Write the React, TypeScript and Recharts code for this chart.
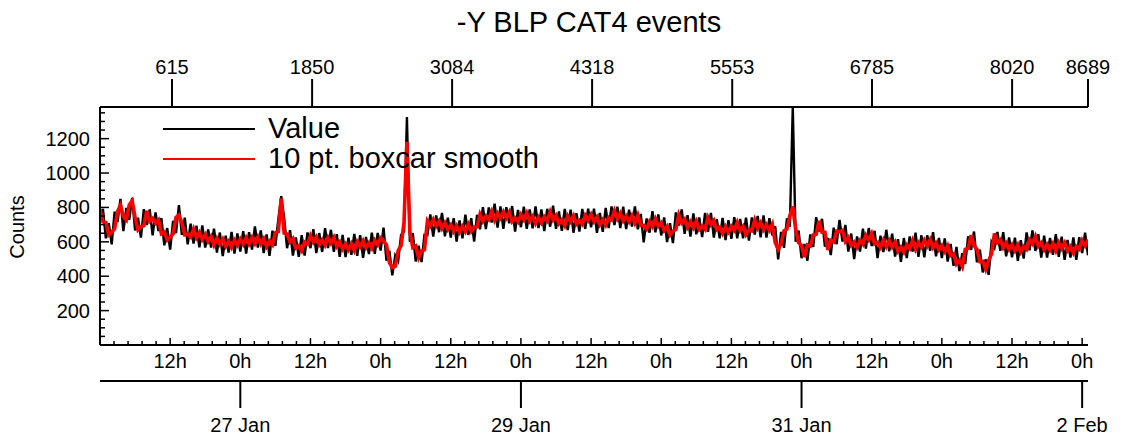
import React from "react";
import { LineChart, Line, XAxis, YAxis } from "recharts";

// samples every half hour, starting 26 Jan 0h
const STEP_H = 0.5;

// raw counts ("Value")
const valueCounts = [
  715, 792, 620, 708, 585, 775, 715, 850, 662, 797, 728, 855, 666, 740, 624, 790, 698, 788, 637, 771, 663, 738, 580, 680,
  555, 722, 650, 814, 640, 740, 585, 706, 590, 694, 568, 695, 566, 672, 567, 677, 538, 654, 517, 636, 538, 658, 531, 649,
  543, 662, 532, 656, 555, 689, 567, 666, 534, 643, 518, 665, 576, 730, 866, 738, 563, 668, 520, 626, 513, 638, 520, 655,
  563, 674, 535, 651, 541, 679, 563, 670, 542, 644, 513, 640, 511, 624, 525, 646, 518, 639, 507, 628, 529, 653, 530, 652,
  549, 682, 490, 548, 405, 520, 488, 640, 660, 1326, 600, 650, 486, 578, 482, 640, 638, 760, 630, 753, 656, 768, 632, 741,
  625, 737, 601, 724, 620, 758, 640, 738, 602, 757, 673, 802, 674, 800, 712, 822, 683, 806, 675, 801, 708, 808, 660, 785,
  685, 804, 675, 789, 678, 806, 680, 788, 662, 792, 688, 810, 676, 776, 664, 791, 668, 787, 653, 766, 660, 792, 675, 793,
  685, 793, 652, 768, 658, 797, 680, 806, 697, 805, 680, 805, 674, 787, 689, 806, 673, 762, 597, 736, 653, 778, 655, 759,
  637, 742, 598, 708, 592, 771, 695, 788, 647, 755, 630, 765, 644, 742, 627, 768, 658, 768, 625, 732, 620, 739, 610, 726,
  617, 743, 620, 733, 620, 741, 607, 742, 642, 751, 626, 753, 624, 737, 638, 690, 498, 658, 565, 736, 688, 1384, 600, 665,
  505, 587, 490, 643, 570, 743, 660, 734, 572, 622, 523, 682, 586, 728, 602, 698, 543, 648, 500, 631, 543, 676, 560, 680,
  575, 664, 505, 636, 540, 670, 545, 647, 514, 615, 483, 622, 506, 631, 544, 653, 513, 638, 510, 638, 548, 656, 515, 623,
  505, 620, 485, 588, 460, 570, 430, 534, 472, 632, 553, 660, 481, 555, 422, 498, 408, 598, 565, 658, 548, 656, 515, 625,
  510, 624, 490, 609, 503, 655, 550, 666, 547, 644, 508, 636, 508, 622, 525, 644, 513, 630, 495, 611, 508, 625, 495, 627,
  535, 653, 522,
];

// 10 pt. boxcar smooth
const smoothCounts = [
  788, 716, 712, 640, 655, 676, 776, 812, 746, 727, 814, 838, 742, 670, 688, 694, 780, 720, 736, 709, 727, 648, 658, 611,
  628, 646, 742, 756, 710, 641, 646, 628, 674, 624, 654, 613, 642, 602, 631, 581, 620, 586, 616, 574, 602, 568, 609, 580,
  616, 586, 624, 588, 625, 590, 628, 588, 618, 573, 604, 583, 652, 660, 853, 650, 645, 600, 619, 564, 577, 548, 598, 586,
  636, 598, 627, 583, 611, 580, 624, 592, 626, 574, 599, 558, 587, 554, 589, 550, 600, 571, 606, 566, 593, 563, 608, 583,
  622, 606, 582, 480, 450, 458, 549, 578, 712, 1182, 660, 567, 576, 508, 546, 554, 720, 692, 729, 691, 720, 678, 710, 672,
  698, 661, 693, 656, 690, 659, 701, 660, 686, 687, 759, 720, 750, 730, 776, 726, 765, 738, 774, 739, 772, 718, 738, 716,
  758, 728, 767, 721, 748, 707, 741, 710, 746, 722, 774, 728, 752, 706, 728, 695, 750, 719, 752, 704, 724, 702, 753, 724,
  758, 717, 744, 700, 728, 698, 741, 728, 781, 735, 766, 723, 750, 717, 753, 710, 755, 694, 696, 674, 717, 688, 733, 690,
  710, 666, 690, 640, 662, 672, 756, 710, 731, 685, 716, 683, 720, 672, 691, 672, 740, 700, 724, 670, 684, 649, 688, 657,
  690, 667, 712, 665, 690, 642, 668, 664, 726, 681, 712, 671, 700, 667, 702, 594, 556, 590, 664, 674, 752, 805, 672, 596,
  578, 511, 582, 575, 640, 644, 721, 656, 656, 552, 609, 600, 662, 658, 666, 602, 625, 580, 599, 569, 607, 586, 638, 611,
  648, 588, 597, 568, 610, 571, 606, 569, 598, 545, 569, 540, 582, 561, 608, 557, 595, 570, 609, 576, 612, 566, 593, 554,
  578, 544, 577, 520, 530, 471, 491, 456, 556, 562, 639, 578, 557, 485, 486, 440, 490, 530, 649, 596, 612, 566, 593, 556,
  583, 548, 582, 541, 573, 556, 611, 588, 631, 574, 594, 554, 584, 552, 589, 548, 595, 562, 594, 549, 572, 535, 573, 558,
  608, 577, 614,
];

// top axis: point number
const indexTicks = [615, 1850, 3084, 4318, 5553, 6785, 8020, 8689];
// bottom axis: hours since 26 Jan 0h
const hourTicks = [12, 24, 36, 48, 60, 72, 84, 96, 108, 120, 132, 144, 156, 168];
const hourLabels = ["12h", "0h", "12h", "0h", "12h", "0h", "12h", "0h", "12h", "0h", "12h", "0h", "12h", "0h"];
const dayTicks = [24, 72, 120, 168];
const dayLabels = ["27 Jan", "29 Jan", "31 Jan", "2 Feb"];
const countLabels = [200, 400, 600, 800, 1000, 1200];

const FONT = "'Liberation Sans', Arial, Helvetica, sans-serif";

const valueData = valueCounts.map((v, i) => ({ h: i * STEP_H, v }));
const smoothData = smoothCounts.map((v, i) => ({ h: i * STEP_H, v }));
// anchors so the point-number axis has something to scale against (never drawn)
const indexData = indexTicks.map((n) => ({ n, v: null }));

// minor ticks: 2.4 h on the time axis, 50 counts on the y axis
const hourMinor = Array.from({ length: 71 }, (_, i) => Math.round(i * 24) / 10);
const countMinor = Array.from({ length: 28 }, (_, i) => i * 50);

const YTick = (props: any) => {
  const { x, y, payload } = props;
  const major = countLabels.includes(payload.value);
  return (
    <g>
      <line x1={x} x2={x + (major ? 9 : 5)} y1={y} y2={y} stroke="#000" strokeWidth={1.5} />
      {major && (
        <text x={x - 10} y={y + 7} textAnchor="end" fontSize={20} fontFamily={FONT} fill="#000">
          {payload.value}
        </text>
      )}
    </g>
  );
};

const HourTick = (props: any) => {
  const { x, y, payload } = props;
  const idx = hourTicks.indexOf(payload.value);
  const major = idx >= 0;
  return (
    <g>
      <line x1={x} x2={x} y1={y} y2={y - (major ? 7 : 4)} stroke="#000" strokeWidth={1.5} />
      {major && (
        <text x={x} y={y + 23} textAnchor="middle" fontSize={20} fontFamily={FONT} fill="#000">
          {hourLabels[idx]}
        </text>
      )}
    </g>
  );
};

const DayTick = (props: any) => {
  const { x, y, payload } = props;
  const idx = dayTicks.indexOf(payload.value);
  return (
    <g>
      <line x1={x} x2={x} y1={y} y2={y + 27} stroke="#000" strokeWidth={2} />
      <text x={x} y={y + 51} textAnchor="middle" fontSize={20} fontFamily={FONT} fill="#000">
        {dayLabels[idx]}
      </text>
    </g>
  );
};

const IndexTick = (props: any) => {
  const { x, y, payload } = props;
  return (
    <g>
      <line x1={x} x2={x} y1={y} y2={y - 28} stroke="#000" strokeWidth={2} />
      <text x={x} y={y - 33} textAnchor="middle" fontSize={20} fontFamily={FONT} fill="#000">
        {payload.value}
      </text>
    </g>
  );
};

const axisStyle = { stroke: "#000", strokeWidth: 2 };

export default function App() {
  return (
    <div style={{ position: "absolute", left: 0, top: 0, width: 1122, height: 441, background: "#fff", fontFamily: FONT }}>
      <LineChart width={1122} height={441} margin={{ top: 47, right: 34, bottom: 5, left: 40 }}>
        <XAxis
          xAxisId="a_hours"
          dataKey="h"
          type="number"
          domain={[0, 169]}
          allowDataOverflow
          orientation="bottom"
          height={36}
          ticks={hourMinor}
          interval={0}
          tickSize={0}
          tickMargin={0}
          tickLine={false}
          axisLine={axisStyle}
          tick={HourTick}
        />
        <XAxis
          xAxisId="b_days"
          dataKey="h"
          type="number"
          domain={[0, 169]}
          allowDataOverflow
          orientation="bottom"
          height={55}
          ticks={dayTicks}
          interval={0}
          tickSize={0}
          tickMargin={0}
          tickLine={false}
          axisLine={axisStyle}
          tick={DayTick}
        />
        <XAxis
          xAxisId="c_index"
          dataKey="n"
          type="number"
          domain={[-19.6, 8689]}
          allowDataOverflow
          orientation="top"
          height={60}
          ticks={indexTicks}
          interval={0}
          tickSize={0}
          tickMargin={0}
          tickLine={false}
          axisLine={axisStyle}
          tick={IndexTick}
        />
        <YAxis
          type="number"
          domain={[0, 1384]}
          allowDataOverflow
          width={60}
          ticks={countMinor}
          interval={0}
          tickSize={0}
          tickMargin={0}
          tickLine={false}
          axisLine={axisStyle}
          tick={YTick}
        />
        <Line
          xAxisId="c_index"
          data={indexData}
          dataKey="v"
          stroke="none"
          dot={false}
          activeDot={false}
          legendType="none"
          isAnimationActive={false}
        />
        <Line
          xAxisId="b_days"
          data={valueData}
          dataKey="v"
          stroke="none"
          dot={false}
          activeDot={false}
          legendType="none"
          isAnimationActive={false}
        />
        <Line
          xAxisId="a_hours"
          data={valueData}
          dataKey="v"
          type="linear"
          stroke="#000"
          strokeWidth={2.4}
          strokeLinejoin="miter"
          dot={false}
          activeDot={false}
          isAnimationActive={false}
        />
        <Line
          xAxisId="a_hours"
          data={smoothData}
          dataKey="v"
          type="linear"
          stroke="#ff0000"
          strokeWidth={3.6}
          dot={false}
          activeDot={false}
          isAnimationActive={false}
        />
      </LineChart>

      <div
        style={{
          position: "absolute",
          left: 589,
          top: 8,
          transform: "translateX(-50%)",
          fontSize: 29,
          lineHeight: "29px",
          whiteSpace: "nowrap",
        }}
      >
        -Y BLP CAT4 events
      </div>

      <div
        style={{
          position: "absolute",
          left: 17,
          top: 227,
          transform: "translate(-50%, -50%) rotate(-90deg)",
          fontSize: 20,
          lineHeight: "20px",
          whiteSpace: "nowrap",
        }}
      >
        Counts
      </div>

      <div style={{ position: "absolute", left: 163, top: 128, width: 92, height: 2, background: "#000" }} />
      <div style={{ position: "absolute", left: 268, top: 114, fontSize: 29, lineHeight: "29px", whiteSpace: "nowrap" }}>
        Value
      </div>
      <div style={{ position: "absolute", left: 163, top: 158, width: 92, height: 2, background: "#ff0000" }} />
      <div style={{ position: "absolute", left: 268, top: 144, fontSize: 29, lineHeight: "29px", whiteSpace: "nowrap" }}>
        10 pt. boxcar smooth
      </div>
    </div>
  );
}
